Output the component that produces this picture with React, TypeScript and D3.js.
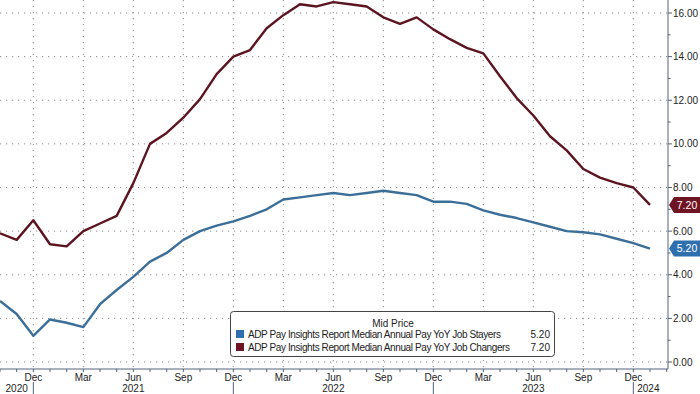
import React from "react";
import * as d3 from "d3";

// Monthly observations, Oct 2020 .. Jan 2024
const startMonth = 9; // October (0-based)
const jobChangers = [
  5.9, 5.6, 6.5,
  5.4, 5.3, 6.0, 6.35, 6.7, 8.2, 10.0, 10.5, 11.2, 12.05, 13.2, 14.0,
  14.3, 15.3, 15.9, 16.4, 16.3, 16.5, 16.4, 16.3, 15.8, 15.5, 15.8, 15.25,
  14.8, 14.4, 14.15, 13.1, 12.1, 11.3, 10.35, 9.7, 8.85, 8.45, 8.2, 8.0,
  7.2,
];
const jobStayers = [
  2.8, 2.2, 1.2,
  1.95, 1.8, 1.6, 2.65, 3.3, 3.9, 4.6, 5.0, 5.6, 6.0, 6.25, 6.45,
  6.7, 7.0, 7.45, 7.55, 7.65, 7.75, 7.65, 7.75, 7.85, 7.75, 7.65, 7.35,
  7.35, 7.25, 6.95, 6.75, 6.6, 6.4, 6.2, 6.0, 5.95, 5.85, 5.65, 5.45,
  5.2,
];
const yTicks = [0, 2, 4, 6, 8, 10, 12, 14, 16];
const monthNames = ["Jan", "Feb", "Mar", "Apr", "May", "Jun", "Jul", "Aug", "Sep", "Oct", "Nov", "Dec"];
// year label centre (month index) and year-start separator (month index)
const yearLabels = ["2020", "2021", "2022", "2023", "2024"];
const yearLabelAt = [1.0, 8, 20, 32, 38.9];
const yearSeparators = [2, 14, 26, 38];
const legendTitle = "Mid Price";
const seriesNames = [
  "ADP Pay Insights Report Median Annual Pay YoY Job Stayers",
  "ADP Pay Insights Report Median Annual Pay YoY Job Changers",
];

const W = 700;
const H = 394;
const FONT = "'Liberation Sans', Arial, sans-serif";
const RED = "#5c1520";
const BLUE = "#3b6e98";
const RED_TAG = "#6e1423";
const BLUE_TAG = "#2f6fae";

export default function App() {
  const x = d3.scaleLinear().domain([0, 39]).range([0, 650]);
  const y = d3.scaleLinear().domain([0, 16]).range([362, 13]);
  const axisX = 668;
  const axisY = 369;

  const line = d3
    .line<number>()
    .x((_, i) => x(i))
    .y((d) => y(d));

  const monthIdx = d3.range(0, 41);
  const gridMonths = monthIdx.filter((i) => (startMonth + i) % 3 === 2);
  const minorY = d3.range(1, 17, 2);

  const tag = (v: number, color: string) => {
    const cy = y(v);
    const h = 16;
    const x0 = axisX + 1;
    const path = `M${x0},${cy} L${x0 + 5},${cy - h / 2} L${W},${cy - h / 2} L${W},${cy + h / 2} L${x0 + 5},${cy + h / 2} Z`;
    return (
      <g>
        <path d={path} fill={color} />
        <text x={x0 + 18} y={cy + 3.6} fill="#fff" fontSize={10.5} textAnchor="middle" fontFamily={FONT}>
          {v.toFixed(2)}
        </text>
      </g>
    );
  };

  const last = jobChangers.length - 1;

  return (
    <svg
      width={W}
      height={H}
      style={{ position: "fixed", left: 0, top: 0, background: "#fff" }}
      fontFamily={FONT}
    >
      <rect width={W} height={H} fill="#fff" />
      {/* horizontal grid */}
      {yTicks.map((t) => (
        <line key={"hg" + t} x1={0} x2={axisX} y1={y(t)} y2={y(t)} stroke="#8a8a8a" strokeWidth={1} strokeDasharray="1.2,4.8" />
      ))}
      {/* vertical grid */}
      {gridMonths.map((i) => (
        <line key={"vg" + i} x1={x(i)} x2={x(i)} y1={0} y2={axisY} stroke="#8a8a8a" strokeWidth={1} strokeDasharray="1.2,4.8" />
      ))}
      {/* lines */}
      <path d={line(jobStayers) || ""} fill="none" stroke={BLUE} strokeWidth={2.4} strokeLinejoin="round" />
      <path d={line(jobChangers) || ""} fill="none" stroke={RED} strokeWidth={2.4} strokeLinejoin="round" />

      {/* right axis */}
      <line x1={axisX} x2={axisX} y1={0} y2={axisY} stroke="#50627a" strokeWidth={1} />
      {yTicks.map((t) => (
        <g key={"yt" + t}>
          <line x1={axisX} x2={axisX + 4} y1={y(t)} y2={y(t)} stroke="#50627a" />
          <text x={axisX + 5} y={y(t) + 3.6} fontSize={10} fill="#222">
            {t.toFixed(2)}
          </text>
        </g>
      ))}
      {minorY.map((t) => (
        <line key={"ym" + t} x1={axisX} x2={axisX + 2.5} y1={y(t)} y2={y(t)} stroke="#50627a" />
      ))}

      {/* bottom axis */}
      <line x1={0} x2={axisX} y1={axisY} y2={axisY} stroke="#50627a" strokeWidth={1} />
      {monthIdx.map((i) => (
        <line key={"xt" + i} x1={x(i)} x2={x(i)} y1={axisY} y2={axisY + 3} stroke="#50627a" />
      ))}
      {gridMonths.map((i) => (
        <text key={"ml" + i} x={x(i)} y={381} fontSize={10} textAnchor="middle" fill="#222">
          {monthNames[(startMonth + i) % 12]}
        </text>
      ))}
      {yearLabels.map((yr, k) => (
        <text key={yr} x={x(yearLabelAt[k])} y={392} fontSize={10} textAnchor="middle" fill="#222">
          {yr}
        </text>
      ))}
      {yearSeparators.map((m) => (
        <line key={"ys" + m} x1={x(m)} x2={x(m)} y1={382} y2={H} stroke="#50627a" />
      ))}

      {/* value tags */}
      {tag(jobChangers[last], RED_TAG)}
      {tag(jobStayers[last], BLUE_TAG)}

      {/* legend */}
      <g>
        <rect x={230.5} y={311.5} width={324} height={45} rx={3} fill="#fff" stroke="#444" strokeWidth={1} />
        <text x={393} y={327} fontSize={10} textAnchor="middle" fill="#222">
          {legendTitle}
        </text>
        {[
          { name: seriesNames[0], color: BLUE_TAG, v: jobStayers[last] },
          { name: seriesNames[1], color: RED_TAG, v: jobChangers[last] },
        ].map((s, k) => (
          <g key={s.name}>
            <rect x={236} y={330 + k * 13} width={8} height={8} fill={s.color} />
            <text x={248} y={338 + k * 13} fontSize={10} letterSpacing={-0.4} fill="#222">
              {s.name}
            </text>
            <text x={550} y={338 + k * 13} fontSize={10} fill="#222" textAnchor="end">
              {s.v.toFixed(2)}
            </text>
          </g>
        ))}
      </g>
    </svg>
  );
}
